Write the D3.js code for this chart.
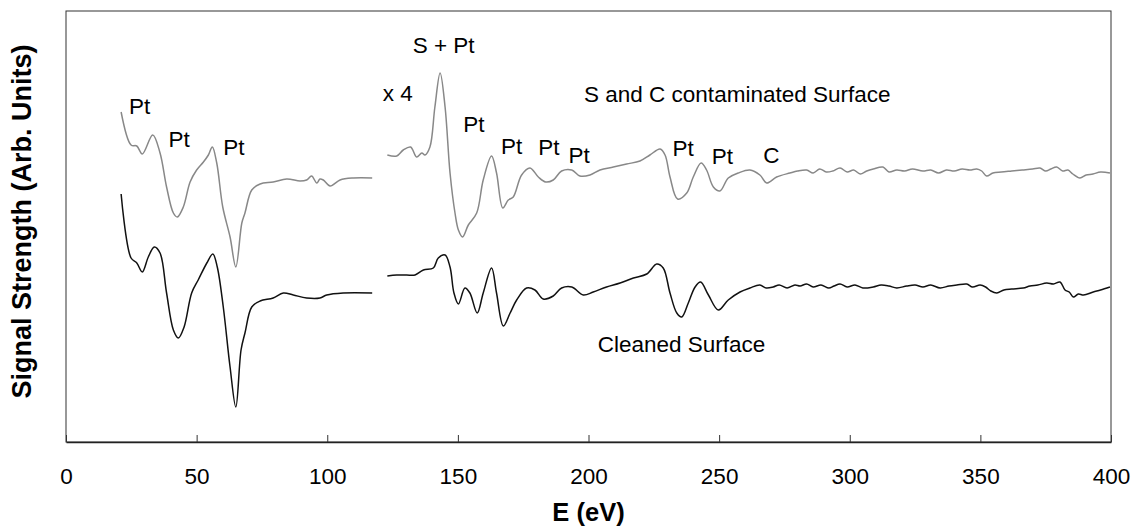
<!DOCTYPE html>
<html>
<head>
<meta charset="utf-8">
<script src="https://cdn.jsdelivr.net/npm/d3@7"></script>
<style>
  body { margin: 0; background: #fff; }
  svg { display: block; font-family: Arial, "Liberation Sans", sans-serif; }
</style>
</head>
<body>
<svg id="canvas" width="1131" height="529"></svg>
<script>
// AES spectra of Pt (arbitrary units)
// left part (x1) and right part (x4) are separate segments

let grayLeftE = [21.1, 24.9, 27.1, 29.2, 33.2, 36.0, 38.5, 41.1, 42.6, 44.9, 47.5, 50.0, 52.6, 54.5, 56.0, 57.7, 60.0, 62.8, 65.0, 67.3, 68.5, 71.1, 74.3, 79.3, 84.5, 89.6, 92.1, 94.0, 96.0, 97.2, 98.5, 101.1, 104.9, 110.0, 117.2]
let grayLeftS = [329, 296, 295, 287, 306, 288, 254, 228, 224, 234, 259, 271, 279, 286, 294, 278, 234, 204, 174, 218, 228, 251, 257, 259, 262, 260, 261, 265, 258, 262, 261, 255, 261, 263, 263]

let blackLeftE = [21.1, 24.9, 27.1, 29.2, 31.5, 33.8, 36.0, 38.5, 41.1, 43.0, 45.2, 48.1, 50.6, 53.9, 56.2, 57.9, 60.2, 62.8, 65.0, 67.0, 68.5, 71.1, 74.3, 79.3, 83.2, 87.0, 92.1, 97.2, 99.8, 106.1, 117.2]
let blackLeftS = [247, 183, 178, 169, 184, 194, 188, 148, 111, 103, 114, 148, 161, 178, 187, 174, 134, 74, 34, 91, 108, 134, 140, 143, 148, 146, 143, 143, 146, 148, 148]

let grayRightE = [123.0, 126.6, 129.1, 131.9, 134.2, 136.2, 137.4, 139.3, 141.2, 143.2, 145.1, 147.0, 148.9, 150.2, 151.8, 154.0, 157.2, 159.7, 162.9, 164.8, 167.2, 169.3, 171.2, 174.4, 177.6, 180.8, 183.6, 186.5, 189.7, 193.6, 196.7, 200.6, 204.4, 209.5, 214.6, 219.7, 223.5, 227.4, 229.3, 231.2, 234.1, 237.6, 240.1, 243.1, 245.2, 247.8, 250.3, 253.5, 257.3, 261.8, 265.6, 268.2, 272.0,
  277.1, 280, 283.5, 286, 288.5, 291, 293.5, 296.3, 299, 301.5, 304, 306.5, 309, 312.7, 315, 318, 321, 324, 328, 331, 334, 337, 340, 343, 346, 348.6, 350.5, 352.4, 354.8, 358, 362, 366, 370, 372.8, 375, 377, 379.2, 381.5, 383.5, 385.4, 388.1, 390.5, 393.1, 396, 399.6]
let grayRightS = [286, 285, 291, 294, 284, 288, 286, 294, 334, 368, 334, 268, 228, 211, 204, 216, 228, 261, 285, 268, 233, 241, 244, 266, 273, 264, 259, 261, 270, 271, 265, 266, 271, 274, 277, 280, 286, 292, 286, 264, 242, 248, 264, 278, 271, 254, 250, 263, 268, 271, 266, 258, 264,
  268, 270, 271, 268, 272, 269, 270, 273, 269, 271, 267, 270, 272, 274, 269, 271, 270, 272, 270, 271, 268, 271, 270, 272, 271, 272, 270, 265, 268, 269, 270, 271, 272, 273, 270, 272, 274, 270, 271, 267, 263, 266, 267, 269, 268]

let blackRightE = [123.0, 126.6, 130.4, 133.6, 136.8, 140.6, 142.5, 145.1, 147.0, 148.5, 150.2, 152.7, 154.6, 157.4, 159.7, 162.9, 164.8, 167.4, 170.0, 172.5, 176.3, 179.5, 182.7, 186.5, 189.7, 193.6, 198.0, 201.8, 206.9, 212.1, 217.2, 222.3, 226.1, 228.6, 231.2, 233.8, 235.7, 238.2, 240.8, 242.9, 245.9, 249.7, 253.5, 258.0, 261.8, 265.6, 268,
  270.7, 273, 276, 279, 281, 283.5, 286, 289, 292, 294, 296.3, 299, 302, 305, 309, 312, 315, 318, 321.8, 325, 328, 331, 334.6, 338, 341, 344.8, 347, 349.9, 352, 354, 356.3, 359, 362, 366.4, 369, 372, 375.4, 378, 380.5, 382.4, 384, 385.6, 387.5, 389.5, 393.2, 396, 399.6]
let blackRightS = [165, 166, 166, 166, 171, 173, 183, 186, 174, 148, 137, 153, 148, 128, 148, 173, 148, 115, 128, 141, 153, 151, 142, 145, 153, 154, 146, 149, 154, 158, 163, 167, 177, 173, 148, 128, 124, 138, 154, 159, 146, 131, 141, 149, 153, 156, 153,
  154, 156, 153, 156, 155, 157, 154, 156, 153, 155, 157, 154, 156, 153, 154, 156, 155, 153, 155, 156, 154, 156, 153, 155, 156, 157, 154, 156, 154, 150, 148, 151, 152, 153, 155, 156, 158, 157, 159, 151, 149, 144, 147, 146, 149, 151, 154]

let xTicks = [0, 50, 100, 150, 200, 250, 300, 350, 400]

// peak labels: text, energy, signal level of the baseline
let labelText = ['Pt', 'Pt', 'Pt', 'x 4', 'S + Pt', 'Pt', 'Pt', 'Pt', 'Pt', 'Pt', 'Pt', 'C', 'S and C contaminated Surface', 'Cleaned Surface']
let labelE    = [24.1, 39.2, 60.2, 121.2, 132.7, 152.1, 166.5, 180.8, 192.3, 232.2, 247.2, 266.9, 198.3, 203.5]
let labelS    = [327, 294, 286, 340, 388, 309, 287, 286, 278, 285, 277, 278, 339, 89]

let canvas = d3.select('#canvas')

let x = d3.scaleLinear().domain([0, 400]).range([66, 1111])
let y = d3.scaleLinear().domain([0, 431]).range([441, 10])

// plot frame
canvas.append('rect')
  .attr('x', x(0)).attr('y', 11)
  .attr('width', x(400) - x(0)).attr('height', 431)
  .attr('fill', 'none')
  .attr('stroke', '#333')
  .attr('stroke-width', 1)

let xAxis = d3.axisBottom(x)
  .tickValues(xTicks)
  .tickSizeInner(-7)
  .tickSizeOuter(0)
  .tickPadding(26)

let gx = canvas.append('g')
  .attr('transform', 'translate(0,442)')
  .call(xAxis)
gx.select('.domain').attr('stroke', '#222').attr('stroke-width', 1.5)
gx.selectAll('.tick line').attr('stroke', '#333')
gx.selectAll('.tick text')
  .attr('font-size', 22.5)
  .attr('fill', '#000')
  .attr('font-family', 'Arial, "Liberation Sans", sans-serif')

let line = d3.line()
  .x(d => x(d[0]))
  .y(d => y(d[1]))
  .curve(d3.curveCatmullRom.alpha(0.5))

let series = [
  [grayLeftE, grayLeftS, '#888'],
  [blackLeftE, blackLeftS, '#111'],
  [grayRightE, grayRightS, '#888'],
  [blackRightE, blackRightS, '#111']
]

series.forEach(s => {
  let pts = d3.zip(s[0], s[1])
  canvas.append('path')
    .datum(pts)
    .attr('d', line)
    .attr('fill', 'none')
    .attr('stroke', s[2])
    .attr('stroke-width', 1.5)
    .attr('stroke-linejoin', 'round')
})

canvas.selectAll('text.lbl')
  .data(d3.range(labelText.length))
  .enter()
  .append('text')
  .attr('class', 'lbl')
  .attr('x', i => x(labelE[i]))
  .attr('y', i => y(labelS[i]))
  .attr('font-size', 22.5)
  .text(i => labelText[i])

canvas.append('text')
  .attr('x', 588.5)
  .attr('y', 521)
  .attr('text-anchor', 'middle')
  .attr('font-weight', 'bold')
  .attr('font-size', 25.5)
  .text('E (eV)')

canvas.append('text')
  .attr('transform', 'translate(31,221.5) rotate(-90)')
  .attr('text-anchor', 'middle')
  .attr('font-weight', 'bold')
  .attr('font-size', 27)
  .text('Signal Strength (Arb. Units)')
</script>
</body>
</html>
